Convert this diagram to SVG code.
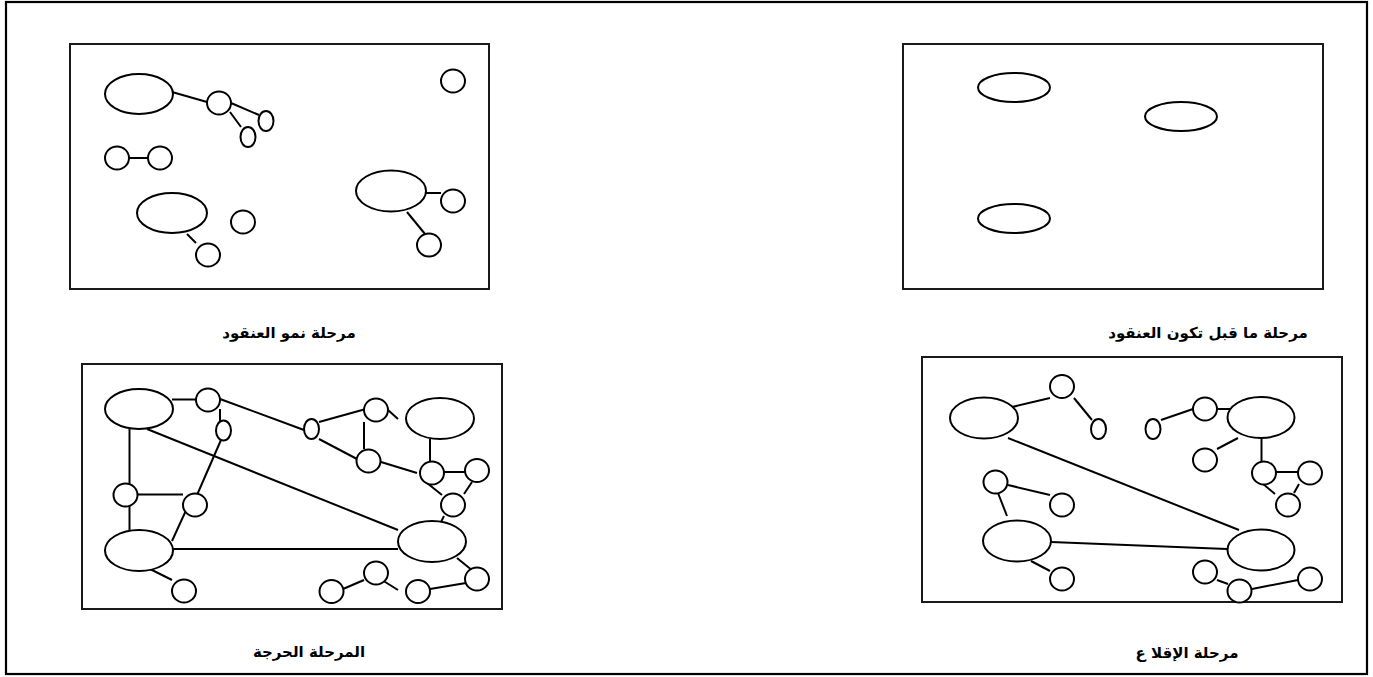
<svg xmlns="http://www.w3.org/2000/svg" width="1373" height="677" viewBox="0 0 1373 677">
<style>
  .frame { fill: none; stroke: #000; stroke-width: 2.2; }
  .box { fill: #fff; stroke: #1a1a1a; stroke-width: 2; }
  .n { fill: #fff; stroke: #000; stroke-width: 2; }
  .c line { stroke: #000; stroke-width: 2; }
  .lbl { font-family: "DejaVu Sans", "Noto Sans", sans-serif; font-size: 15px; font-weight: bold; fill: #000; text-anchor: middle; }
</style>
<rect width="1373" height="677" fill="#fff"/>
<rect class="frame" x="6" y="2" width="1361" height="672"/>

<!-- Panel: growth stage (top-left) -->
<g id="panel-growth">
  <rect class="box" x="70" y="44" width="419" height="245"/>
  <g class="c">
    <line x1="172" y1="92" x2="207" y2="102"/>
    <line x1="231" y1="103" x2="259" y2="115"/>
    <line x1="230" y1="112" x2="241" y2="127"/>
    <line x1="129" y1="158" x2="148" y2="158"/>
    <line x1="187" y1="234" x2="196" y2="243"/>
    <line x1="425" y1="193" x2="441" y2="193"/>
    <line x1="407" y1="212" x2="425" y2="234"/>
  </g>
  <ellipse id="g1" class="n" cx="139" cy="94" rx="34" ry="20"/>
  <ellipse id="g2" class="n" cx="219" cy="103" rx="12" ry="11.5"/>
  <ellipse id="g3" class="n" cx="266" cy="121" rx="7.5" ry="10"/>
  <ellipse id="g4" class="n" cx="248" cy="137" rx="7.5" ry="10"/>
  <ellipse id="g5" class="n" cx="453" cy="81" rx="12" ry="11.5"/>
  <ellipse id="g6" class="n" cx="117" cy="158" rx="12" ry="11.5"/>
  <ellipse id="g7" class="n" cx="160" cy="158" rx="12" ry="11.5"/>
  <ellipse id="g8" class="n" cx="172" cy="213" rx="35" ry="20"/>
  <ellipse id="g9" class="n" cx="208" cy="255" rx="12" ry="11.5"/>
  <ellipse id="g10" class="n" cx="243" cy="222" rx="12" ry="11.5"/>
  <ellipse id="g11" class="n" cx="391" cy="191" rx="35" ry="20.5"/>
  <ellipse id="g12" class="n" cx="453" cy="201" rx="12" ry="11.5"/>
  <ellipse id="g13" class="n" cx="429" cy="245" rx="12" ry="11.5"/>
</g>
<g id="label-growth"><text class="lbl" x="289" y="338">مرحلة نمو العنقود</text></g>

<!-- Panel: pre-clustering (top-right) -->
<g id="panel-pre">
  <rect class="box" x="903" y="44" width="420" height="245"/>
  <ellipse id="p1" class="n" cx="1014" cy="87.5" rx="36" ry="14.5"/>
  <ellipse id="p2" class="n" cx="1181" cy="116.5" rx="36" ry="14.5"/>
  <ellipse id="p3" class="n" cx="1014" cy="218.5" rx="36" ry="14.5"/>
</g>
<g id="label-pre"><text class="lbl" x="1208" y="338">مرحلة ما قبل تكون العنقود</text></g>

<!-- Panel: critical stage (bottom-left) -->
<g id="panel-critical">
  <rect class="box" x="82" y="364" width="420" height="245"/>
  <g class="c">
    <line x1="172" y1="399.5" x2="196" y2="399.5"/>
    <line x1="220" y1="409" x2="220" y2="421"/>
    <line x1="220" y1="399" x2="304" y2="430"/>
    <line x1="319" y1="422" x2="364" y2="409.5"/>
    <line x1="388" y1="410" x2="398" y2="419"/>
    <line x1="364" y1="422" x2="364" y2="449"/>
    <line x1="319" y1="439" x2="357" y2="459"/>
    <line x1="381" y1="462" x2="417" y2="473"/>
    <line x1="430" y1="439" x2="430" y2="462"/>
    <line x1="444" y1="472" x2="465" y2="472"/>
    <line x1="427" y1="483" x2="442" y2="495"/>
    <line x1="472" y1="482" x2="464" y2="494"/>
    <line x1="444" y1="516" x2="441" y2="522"/>
    <line x1="147" y1="429" x2="398" y2="530"/>
    <line x1="129.5" y1="429" x2="129.5" y2="484"/>
    <line x1="138" y1="494.5" x2="183" y2="494.5"/>
    <line x1="197" y1="495" x2="221" y2="440"/>
    <line x1="129.5" y1="506" x2="129.5" y2="531"/>
    <line x1="172" y1="541" x2="188" y2="506"/>
    <line x1="172" y1="549" x2="398" y2="549"/>
    <line x1="148" y1="568" x2="172" y2="580"/>
    <line x1="343" y1="589" x2="364" y2="580"/>
    <line x1="382" y1="580" x2="398" y2="590"/>
    <line x1="430" y1="589" x2="466" y2="583"/>
    <line x1="457" y1="558" x2="473" y2="571"/>
  </g>
  <ellipse id="c1" class="n" cx="139" cy="409" rx="34" ry="20"/>
  <ellipse id="c2" class="n" cx="208" cy="400" rx="12" ry="11.5"/>
  <ellipse id="c3" class="n" cx="223.5" cy="430.5" rx="7.5" ry="10"/>
  <ellipse id="c4" class="n" cx="311.5" cy="429" rx="7.5" ry="10"/>
  <ellipse id="c5" class="n" cx="376" cy="410" rx="12" ry="11.5"/>
  <ellipse id="c6" class="n" cx="440" cy="418.5" rx="34" ry="20.5"/>
  <ellipse id="c7" class="n" cx="368.5" cy="461" rx="12" ry="11.5"/>
  <ellipse id="c8" class="n" cx="432" cy="473" rx="12" ry="11.5"/>
  <ellipse id="c9" class="n" cx="477" cy="470.5" rx="12" ry="11.5"/>
  <ellipse id="c10" class="n" cx="453" cy="505" rx="12" ry="11.5"/>
  <ellipse id="c11" class="n" cx="432" cy="541.5" rx="34" ry="20.5"/>
  <ellipse id="c12" class="n" cx="125.5" cy="495" rx="12" ry="11.5"/>
  <ellipse id="c13" class="n" cx="195" cy="505" rx="12" ry="11.5"/>
  <ellipse id="c14" class="n" cx="139" cy="550.5" rx="34" ry="20.5"/>
  <ellipse id="c15" class="n" cx="184" cy="591" rx="12" ry="11.5"/>
  <ellipse id="c16" class="n" cx="331.5" cy="591.5" rx="12" ry="11.5"/>
  <ellipse id="c17" class="n" cx="376" cy="573" rx="12" ry="11.5"/>
  <ellipse id="c18" class="n" cx="418" cy="591.5" rx="12" ry="11.5"/>
  <ellipse id="c19" class="n" cx="477" cy="579" rx="12" ry="11.5"/>
</g>
<g id="label-critical"><text class="lbl" x="309" y="657">المرحلة الحرجة</text></g>

<!-- Panel: take-off stage (bottom-right) -->
<g id="panel-takeoff">
  <rect class="box" x="922" y="357" width="420" height="245"/>
  <g class="c">
    <line x1="1008" y1="408" x2="1050" y2="398"/>
    <line x1="1074" y1="398" x2="1092" y2="420"/>
    <line x1="1161" y1="420" x2="1193" y2="409"/>
    <line x1="1217" y1="409" x2="1239" y2="409"/>
    <line x1="1217" y1="449" x2="1238" y2="438"/>
    <line x1="1261.5" y1="438" x2="1261.5" y2="462"/>
    <line x1="1275" y1="472" x2="1298" y2="472"/>
    <line x1="1262" y1="483" x2="1275" y2="494"/>
    <line x1="1299" y1="484" x2="1294" y2="493"/>
    <line x1="1008" y1="438" x2="1239" y2="530"/>
    <line x1="1008" y1="485" x2="1050" y2="495"/>
    <line x1="998" y1="493" x2="1007" y2="516"/>
    <line x1="1051" y1="542" x2="1227" y2="549"/>
    <line x1="1031" y1="561" x2="1050" y2="571"/>
    <line x1="1217" y1="580" x2="1228" y2="584"/>
    <line x1="1252" y1="589" x2="1298" y2="580"/>
  </g>
  <ellipse id="t1" class="n" cx="984" cy="418" rx="34" ry="20.5"/>
  <ellipse id="t2" class="n" cx="1062" cy="386.5" rx="12" ry="11.5"/>
  <ellipse id="t3" class="n" cx="1098.5" cy="429" rx="7.5" ry="10"/>
  <ellipse id="t4" class="n" cx="1153" cy="429" rx="7.5" ry="10"/>
  <ellipse id="t5" class="n" cx="1205" cy="409" rx="12" ry="11.5"/>
  <ellipse id="t6" class="n" cx="1261" cy="417.5" rx="33.5" ry="20.5"/>
  <ellipse id="t7" class="n" cx="1205" cy="460" rx="12" ry="11.5"/>
  <ellipse id="t8" class="n" cx="1264" cy="473" rx="12" ry="11.5"/>
  <ellipse id="t9" class="n" cx="1310" cy="473" rx="12" ry="11.5"/>
  <ellipse id="t10" class="n" cx="1288" cy="505" rx="12" ry="11.5"/>
  <ellipse id="t11" class="n" cx="1261" cy="550" rx="33.5" ry="20.5"/>
  <ellipse id="t12" class="n" cx="995.5" cy="482" rx="12" ry="11.5"/>
  <ellipse id="t13" class="n" cx="1062" cy="505" rx="12" ry="11.5"/>
  <ellipse id="t14" class="n" cx="1017" cy="541" rx="34" ry="20.5"/>
  <ellipse id="t15" class="n" cx="1062" cy="579" rx="12" ry="11.5"/>
  <ellipse id="t16" class="n" cx="1205" cy="572" rx="12" ry="11.5"/>
  <ellipse id="t17" class="n" cx="1239.5" cy="591" rx="12" ry="11.5"/>
  <ellipse id="t18" class="n" cx="1310" cy="579" rx="12" ry="11.5"/>
</g>
<g id="label-takeoff"><text class="lbl" x="1187" y="658">مرحلة الإقلا ع</text></g>
</svg>
